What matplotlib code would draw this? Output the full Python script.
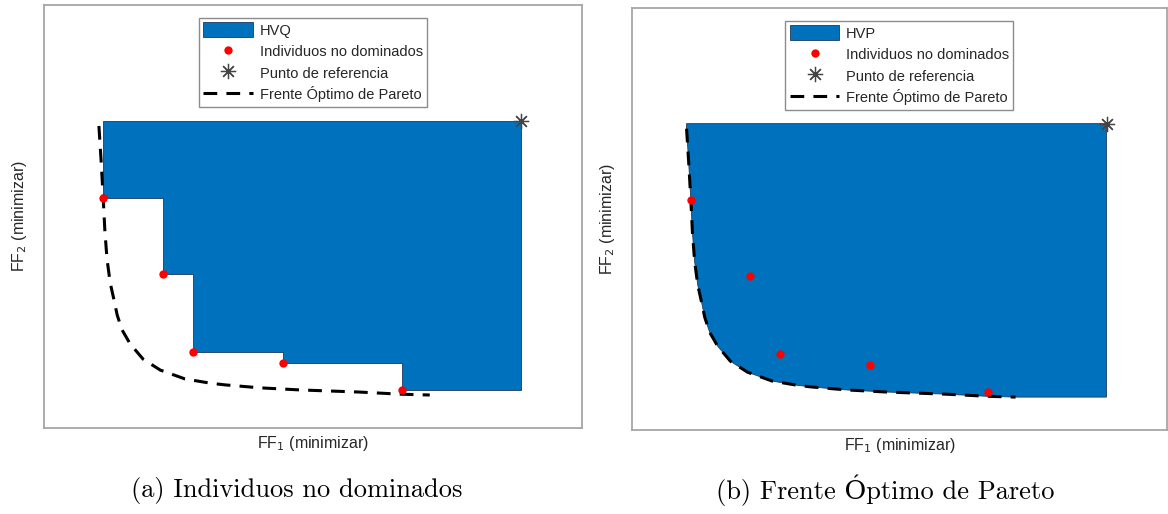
import numpy as np
import matplotlib
matplotlib.use("Agg")
import matplotlib.pyplot as plt
from matplotlib.patches import Patch
from matplotlib.lines import Line2D

# Pareto front (axes scaled 0-100)
front_x = [10.2, 10.6, 11.0, 11.3, 11.7, 12.3, 13.0, 13.6, 14.5, 16.0,
           18.4, 21.6, 26.2, 30.9, 33.6, 40.1, 47.6, 58.6, 66.2, 71.7]
front_y = [71.4, 63.4, 54.4, 46.8, 40.0, 34.3, 30.3, 26.7, 23.2, 19.9,
           16.3, 13.7, 11.6, 10.6, 10.2, 9.5, 9.0, 8.5, 8.0, 7.8]

# non-dominated individuals
pts_x = [11.0, 22.1, 27.7, 44.4, 66.5]
pts_y = [54.4, 36.4, 18.0, 15.4, 9.0]

# reference point
ref_x = 88.7
ref_y = 72.6

hv_labels = ["HVQ", "HVP"]
captions = ["(a) Individuos no dominados", "(b) Frente Óptimo de Pareto"]

blue = "#0072BD"
txt = "#262626"
sans = ["Liberation Sans", "DejaVu Sans"]

plt.rcParams["font.family"] = sans

fig = plt.figure(figsize=(11.68, 5.14), dpi=100)
ax1 = fig.add_axes([0.0377, 0.1673, 0.4606, 0.823])
ax2 = fig.add_axes([0.5411, 0.1634, 0.458, 0.821])

# staircase hypervolume of the individuals
stair_x = [pts_x[0]]
stair_y = [ref_y]
for i in range(len(pts_x)):
    stair_x.append(pts_x[i])
    stair_y.append(pts_y[i])
    nxt = pts_x[i + 1] if i + 1 < len(pts_x) else ref_x
    stair_x.append(nxt)
    stair_y.append(pts_y[i])
stair_x.append(ref_x)
stair_y.append(ref_y)

# hypervolume of the front
pf_x = [front_x[0]] + front_x + [ref_x, ref_x]
pf_y = [ref_y] + front_y + [front_y[-1], ref_y]

polys = [(stair_x, stair_y), (pf_x, pf_y)]
dash = (0, (4.5, 3.0))

for k, ax in enumerate([ax1, ax2]):
    px, py = polys[k]
    ax.fill(px, py, color=blue, edgecolor="#203a5a", linewidth=0.6, zorder=1)
    ax.plot(front_x, front_y, color="black", lw=2.2, ls=dash, zorder=2)
    ax.plot(pts_x, pts_y, "o", color="red", markersize=6, markeredgewidth=0, zorder=3)
    ax.plot([ref_x], [ref_y], marker=(8, 2, 0), color="#444444", markersize=11,
            markeredgewidth=0.9, ls="none", zorder=4)

    ax.set_xlim(0, 100)
    ax.set_ylim(0, 100)
    ax.set_xticks([])
    ax.set_yticks([])
    for s in ax.spines.values():
        s.set_color("#a6a6a6")
        s.set_linewidth(1.3)

    ax.set_xlabel("FF$_1$ (minimizar)", fontsize=11.5, color=txt, labelpad=4)
    ax.set_ylabel("FF$_2$ (minimizar)", fontsize=11.5, color=txt, labelpad=11)

    handles = [
        Patch(facecolor=blue, edgecolor="#203a5a", linewidth=0.6),
        Line2D([], [], marker="o", color="red", ls="none", markersize=6,
               markeredgewidth=0),
        Line2D([], [], marker=(8, 2, 0), color="#444444", ls="none",
               markersize=11, markeredgewidth=0.9),
        Line2D([], [], color="black", lw=2.2, ls=dash),
    ]
    labels = [hv_labels[k], "Individuos no dominados", "Punto de referencia",
              "Frente Óptimo de Pareto"]
    leg = ax.legend(handles, labels, loc="upper center", bbox_to_anchor=(0.5, 0.97),
                    fontsize=10.5, frameon=True, fancybox=False, framealpha=1,
                    edgecolor="#8c8c8c", handlelength=3.4, handleheight=1.25,
                    labelspacing=0.4, borderpad=0.3, handletextpad=0.45,
                    borderaxespad=0.0)
    leg.get_frame().set_linewidth(1.0)
    for t in leg.get_texts():
        t.set_color(txt)

fig.text(297 / 1168, 1 - 490 / 514, captions[0], ha="center", va="center",
         fontsize=19, family=["cmr10", "DejaVu Serif"], color="black")
fig.text(885 / 1168, 1 - 490 / 514, captions[1], ha="center", va="center",
         fontsize=19, family=["cmr10", "DejaVu Serif"], color="black")

fig.savefig("out.png", dpi=100)
